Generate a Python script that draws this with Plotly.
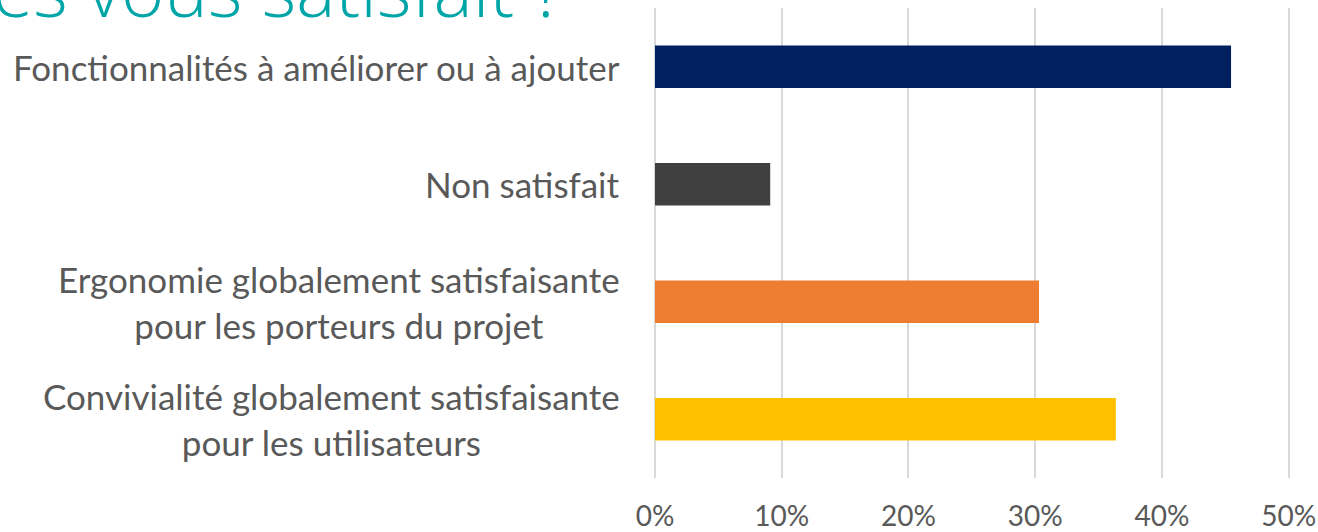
import plotly.graph_objects as go

# Data (bottom to top, as drawn on the chart).
categories = [
    'Convivialité globalement satisfaisante<br>pour les utilisateurs',
    'Ergonomie globalement satisfaisante<br>pour les porteurs du projet',
    'Non satisfait',
    'Fonctionnalités à améliorer ou à ajouter',
]
shares = [0.3636, 0.303, 0.0909, 0.4545]
bar_colors = ['#FFC000', '#ED7D31', '#404040', '#002060']
x_ticks = [0, 0.1, 0.2, 0.3, 0.4, 0.5]
title_text = 'Êtes vous satisfait ?'

fig = go.Figure(go.Bar(
    x=shares, y=categories, orientation='h',
    marker=dict(color=bar_colors, line_width=0),
    width=0.36, hoverinfo='skip',
))

# Category labels, centred on two lines like the original.
for cat in categories:
    fig.add_annotation(
        x=0, xref='x', y=cat, yref='y', text=cat, showarrow=False,
        xanchor='right', yanchor='middle', xshift=-33, align='center',
        font=dict(family='Lato', size=35, color='#595959'),
    )

# Title, cut off at the top of the image.
fig.add_annotation(
    x=-0.139, xref='paper', y=1.0, yref='paper', text=title_text,
    showarrow=False, xanchor='right', yanchor='bottom', yshift=-33,
    font=dict(family='Open Sans', size=74, color='#00A5A8', weight=300),
)

fig.update_layout(
    width=1318, height=532,
    margin=dict(l=655, r=28, t=8, b=54),
    plot_bgcolor='white', paper_bgcolor='white',
    showlegend=False, bargap=0.64,
)
fig.update_xaxes(
    range=[0, 0.501], tickvals=x_ticks, tickformat='.0%',
    showgrid=True, gridcolor='#D9D9D9', gridwidth=2,
    zeroline=True, zerolinecolor='#D9D9D9', zerolinewidth=2,
    showline=False, ticks='', ticklabelstandoff=19, automargin=False,
    ticklabeloverflow='allow',
    tickfont=dict(family='Lato', size=28, color='#595959'),
)
fig.update_yaxes(
    categoryorder='array', categoryarray=categories,
    range=[-0.5, 3.5], showticklabels=False, showgrid=False,
    zeroline=False, showline=False, automargin=False,
)

# Drop the browser's default page margin so the chart sits at the corner.
fig.write_html('out.html', config={'displayModeBar': False},
               post_script="document.body.style.margin = '0';")
